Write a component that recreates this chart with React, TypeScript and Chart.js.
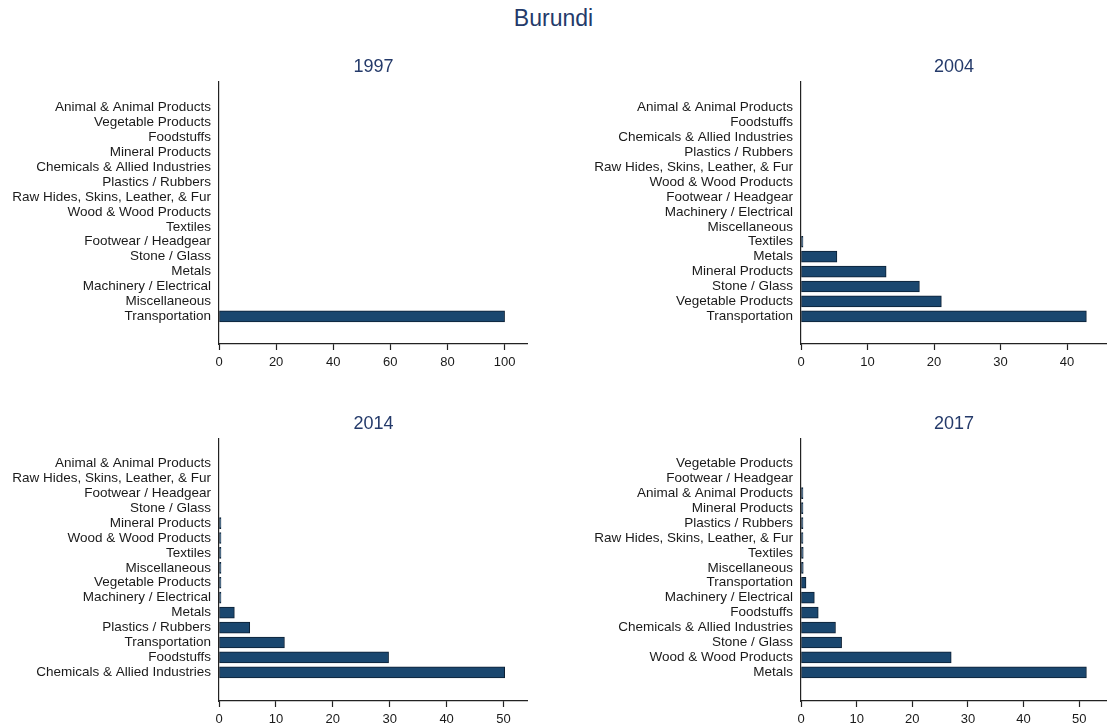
import React, { useEffect, useRef } from "react";
import { Chart, registerables } from "chart.js";

Chart.register(...registerables);

const FONT = "'Liberation Sans', Arial, Helvetica, sans-serif";
const TITLE_COLOR = "#243a6a";
const TEXT_COLOR = "#1a1a1a";
const BAR_FILL = "#1a476f";
const BAR_EDGE = "#0c1f33";

const mainTitle = "Burundi";

const labels1997 = [
  "Animal & Animal Products",
  "Vegetable Products",
  "Foodstuffs",
  "Mineral Products",
  "Chemicals & Allied Industries",
  "Plastics / Rubbers",
  "Raw Hides, Skins, Leather, & Fur",
  "Wood & Wood Products",
  "Textiles",
  "Footwear / Headgear",
  "Stone / Glass",
  "Metals",
  "Machinery / Electrical",
  "Miscellaneous",
  "Transportation",
];
const values1997 = [0, 0, 0, 0, 0, 0, 0, 0, 0, 0, 0, 0, 0, 0, 100];

const labels2004 = [
  "Animal & Animal Products",
  "Foodstuffs",
  "Chemicals & Allied Industries",
  "Plastics / Rubbers",
  "Raw Hides, Skins, Leather, & Fur",
  "Wood & Wood Products",
  "Footwear / Headgear",
  "Machinery / Electrical",
  "Miscellaneous",
  "Textiles",
  "Metals",
  "Mineral Products",
  "Stone / Glass",
  "Vegetable Products",
  "Transportation",
];
const values2004 = [0, 0, 0, 0, 0, 0, 0, 0, 0, 0.1, 5.4, 12.8, 17.8, 21.1, 42.9];

const labels2014 = [
  "Animal & Animal Products",
  "Raw Hides, Skins, Leather, & Fur",
  "Footwear / Headgear",
  "Stone / Glass",
  "Mineral Products",
  "Wood & Wood Products",
  "Textiles",
  "Miscellaneous",
  "Vegetable Products",
  "Machinery / Electrical",
  "Metals",
  "Plastics / Rubbers",
  "Transportation",
  "Foodstuffs",
  "Chemicals & Allied Industries",
];
const values2014 = [0, 0, 0, 0, 0.1, 0.1, 0.1, 0.1, 0.1, 0.15, 2.7, 5.4, 11.5, 29.8, 50.2];

const labels2017 = [
  "Vegetable Products",
  "Footwear / Headgear",
  "Animal & Animal Products",
  "Mineral Products",
  "Plastics / Rubbers",
  "Raw Hides, Skins, Leather, & Fur",
  "Textiles",
  "Miscellaneous",
  "Transportation",
  "Machinery / Electrical",
  "Foodstuffs",
  "Chemicals & Allied Industries",
  "Stone / Glass",
  "Wood & Wood Products",
  "Metals",
];
const values2017 = [0, 0, 0.05, 0.05, 0.05, 0.05, 0.4, 0.4, 0.9, 2.4, 3.1, 6.2, 7.3, 27.0, 51.3];

const years = ["1997", "2004", "2014", "2017"];
const axisMax = [108.2, 46, 54.3, 55];
const axisStep = [20, 10, 10, 10];

type PanelProps = {
  title: string;
  labels: string[];
  values: number[];
  max: number;
  step: number;
  yMin: number;
  yMax: number;
  left: number;
  top: number;
  width: number;
  height: number;
  yAxisWidth: number;
  xAxisHeight: number;
  padTop: number;
};

function Panel(p: PanelProps) {
  const ref = useRef<HTMLCanvasElement | null>(null);
  useEffect(() => {
    if (!ref.current) return;
    const titlePlugin = {
      id: "panelTitle",
      afterDraw(chart: any) {
        const { ctx, chartArea } = chart;
        ctx.save();
        ctx.font = `18px ${FONT}`;
        ctx.fillStyle = TITLE_COLOR;
        ctx.textAlign = "center";
        ctx.textBaseline = "middle";
        ctx.fillText(p.title, (chartArea.left + chartArea.right) / 2, chartArea.top - 15);
        ctx.restore();
      },
    };
    const chart = new Chart(ref.current, {
      type: "bar",
      data: {
        datasets: [
          {
            data: p.values.map((v, i) => ({ x: v === 0 ? null : v, y: i })) as any,
            backgroundColor: BAR_FILL,
            borderColor: BAR_EDGE,
            borderWidth: 1,
            borderSkipped: false,
            barThickness: 11,
            minBarLength: 2,
          },
        ],
      },
      options: {
        indexAxis: "y",
        animation: false,
        responsive: false,
        maintainAspectRatio: false,
        layout: { padding: { top: p.padTop, left: 0, right: 0, bottom: 0 } },
        plugins: {
          legend: { display: false },
          tooltip: { enabled: false },
          title: { display: false },
        },
        scales: {
          x: {
            type: "linear",
            min: 0,
            max: p.max,
            offset: false,
            grid: {
              display: true,
              drawOnChartArea: false,
              drawTicks: true,
              tickLength: 6,
              tickColor: "#222",
              tickWidth: 1.2,
            },
            border: { display: true, color: "#222", width: 1.2 },
            ticks: {
              autoSkip: false,
              maxRotation: 0,
              padding: 5,
              color: TEXT_COLOR,
              font: { family: FONT, size: 13 },
            },
            afterBuildTicks: (scale: any) => {
              const t = [];
              for (let v = 0; v <= p.max + 1e-9; v += p.step) t.push({ value: v });
              scale.ticks = t;
            },
            afterFit: (scale: any) => {
              scale.height = p.xAxisHeight;
            },
          },
          y: {
            type: "linear",
            reverse: true,
            offset: false,
            min: p.yMin,
            max: p.yMax,
            grid: { display: false, drawTicks: false, offset: false },
            border: { display: true, color: "#222", width: 1.2 },
            ticks: {
              autoSkip: false,
              padding: 8,
              color: TEXT_COLOR,
              font: { family: FONT, size: 13.5 },
              callback: (v: any) => p.labels[v as number] ?? "",
            },
            afterBuildTicks: (scale: any) => {
              scale.ticks = p.labels.map((_, i) => ({ value: i }));
            },
            afterFit: (scale: any) => {
              scale.width = p.yAxisWidth;
            },
          },
        },
      },
      plugins: [titlePlugin],
    });
    return () => chart.destroy();
  }, []);
  return (
    <canvas
      ref={ref}
      width={p.width}
      height={p.height}
      style={{ position: "absolute", left: p.left, top: p.top, width: p.width, height: p.height }}
    />
  );
}

const allLabels = [labels1997, labels2004, labels2014, labels2017];
const allValues = [values1997, values2004, values2014, values2017];

const layouts = [
  { left: 0, top: 40, width: 528, height: 340, yAxisWidth: 219, xAxisHeight: 36, padTop: 42, yMin: -1.7, yMax: 15.85 },
  { left: 560, top: 40, width: 547, height: 340, yAxisWidth: 241, xAxisHeight: 36, padTop: 42, yMin: -1.7, yMax: 15.85 },
  { left: 0, top: 395, width: 528, height: 331, yAxisWidth: 219, xAxisHeight: 25, padTop: 44, yMin: -1.63, yMax: 15.92 },
  { left: 560, top: 395, width: 547, height: 331, yAxisWidth: 241, xAxisHeight: 25, padTop: 44, yMin: -1.63, yMax: 15.92 },
];

export default function App() {
  return (
    <div
      style={{
        position: "absolute",
        left: 0,
        top: 0,
        width: 1107,
        height: 726,
        background: "#ffffff",
        overflow: "hidden",
        fontFamily: FONT,
      }}
    >
      <div
        style={{
          position: "absolute",
          left: 0,
          top: 0,
          width: 1107,
          height: 36,
          lineHeight: "36px",
          textAlign: "center",
          fontSize: 23,
          color: TITLE_COLOR,
        }}
      >
        {mainTitle}
      </div>
      {years.map((y, i) => (
        <Panel
          key={y}
          title={y}
          labels={allLabels[i]}
          values={allValues[i]}
          max={axisMax[i]}
          step={axisStep[i]}
          {...layouts[i]}
        />
      ))}
    </div>
  );
}
